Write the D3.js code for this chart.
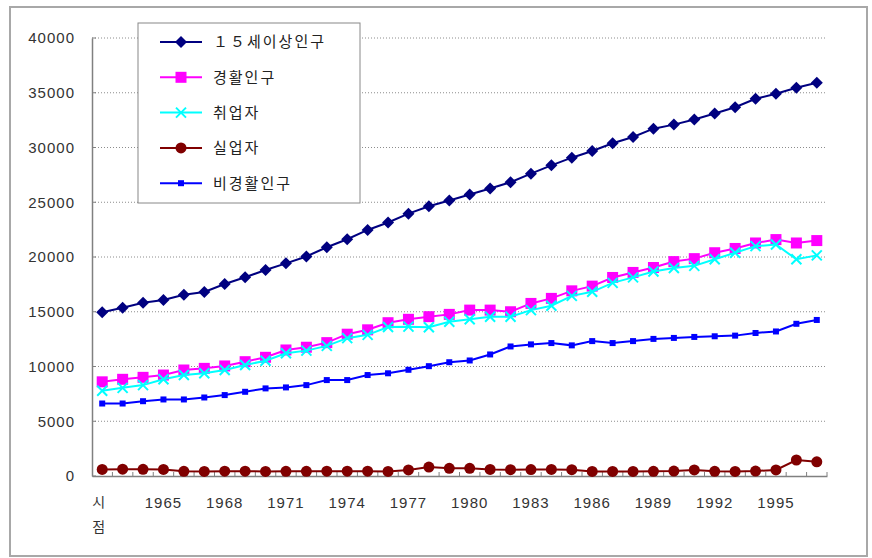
<!DOCTYPE html>
<html><head><meta charset="utf-8">
<script src="https://cdn.jsdelivr.net/npm/d3@7"></script>
<style>body{margin:0;background:#fff}</style>
</head><body>
<svg id="c" width="872" height="558"></svg>
<script>
const categories = ["시점","1963","1964","1965","1966","1967","1968","1969","1970","1971","1972","1973","1974","1975","1976","1977","1978","1979","1980","1981","1982","1983","1984","1985","1986","1987","1988","1989","1990","1991","1992","1993","1994","1995","1996","1997"];
const tickLabels = ["시점","1965","1968","1971","1974","1977","1980","1983","1986","1989","1992","1995"];
const yTicks = [0,5000,10000,15000,20000,25000,30000,35000,40000];
const seriesNames = ["１５세이상인구","경활인구","취업자","실업자","비경활인구"];
const pop15 = [14950,15370,15830,16070,16560,16800,17530,18150,18810,19420,20050,20890,21620,22470,23150,23960,24630,25160,25710,26260,26830,27610,28370,29070,29680,30390,30960,31720,32090,32550,33100,33680,34450,34910,35460,35920];
const active = [8600,8830,9010,9220,9680,9830,10050,10440,10840,11510,11760,12180,12950,13350,14000,14310,14550,14760,15150,15150,15000,15760,16220,16910,17340,18130,18590,19040,19580,19850,20390,20780,21280,21590,21280,21500];
const employed = [7780,8050,8300,8830,9220,9380,9680,10140,10530,11210,11450,11880,12590,12890,13600,13640,13580,14090,14310,14550,14550,15150,15550,16450,16820,17640,18140,18680,18990,19190,19790,20390,20990,21140,19790,20150];
const unemployed = [600,620,610,600,430,420,440,440,420,430,430,440,440,440,420,550,820,700,700,600,580,590,600,580,420,420,420,430,450,550,430,420,450,550,1460,1300];
const inactive = [6620,6620,6830,6990,6990,7170,7390,7690,8000,8090,8300,8760,8760,9220,9380,9700,10030,10390,10550,11100,11830,12020,12140,11930,12320,12140,12320,12520,12610,12700,12760,12820,13060,13200,13900,14250];
const seriesColors = ["#000080","#ff00ff","#00ffff","#800000","#0000ff"];
const seriesMarkers = ["diamond","square","cross","circle","smallsquare"];

const svg = d3.select("#c");
// outer frame
svg.append("rect").attr("x",10).attr("y",7).attr("width",857).attr("height",549)
  .attr("fill","#fff").attr("stroke","#a8a8a8").attr("stroke-width",2);

const x = d3.scaleBand().domain(categories).range([92,827]).padding(0);
const y = d3.scaleLinear().domain([0,40000]).range([476,38]);
const cx = c => x(c) + x.bandwidth()/2;

// grid
svg.append("g").selectAll("line").data(yTicks.filter(v=>v>0)).join("line")
  .attr("x1",92).attr("x2",827).attr("y1",d=>y(d)).attr("y2",d=>y(d))
  .attr("stroke","#8c8c8c").attr("stroke-width",1).attr("stroke-dasharray","1,2");

// y axis
const ya = svg.append("g").attr("transform","translate(92,0)")
  .call(d3.axisLeft(y).tickValues(yTicks).tickSize(0).tickPadding(17).tickFormat(d3.format("d")));
ya.select(".domain").attr("stroke","#808080").attr("stroke-width",1.5);
ya.selectAll("text").attr("font-family","Liberation Sans, Arial, sans-serif").attr("font-size",15)
  .attr("letter-spacing",1).attr("fill","#333");
// small inner ticks on y axis
svg.append("g").selectAll("line").data(yTicks).join("line")
  .attr("x1",92).attr("x2",96).attr("y1",d=>y(d)).attr("y2",d=>y(d)).attr("stroke","#808080");

// x axis
const xa = svg.append("g").attr("transform","translate(0,476)")
  .call(d3.axisBottom(x).tickValues(tickLabels).tickSize(0).tickPadding(21));
xa.select(".domain").attr("stroke","#808080").attr("stroke-width",1.5);
xa.selectAll("text").attr("font-family","Liberation Sans, Arial, sans-serif").attr("font-size",15)
  .attr("letter-spacing",1).attr("fill","#333");
xa.selectAll(".tick").filter(d=>d==="시점").select("text").each(function(d){
  const t = d3.select(this); t.text(null).attr("font-family","Noto Sans CJK KR, sans-serif").attr("font-size",14);
  t.append("tspan").attr("x",-3).attr("dy","0.71em").text(d.charAt(0));
  t.append("tspan").attr("x",-3).attr("dy",25).text(d.charAt(1));
});
// band-boundary ticks (inside)
svg.append("g").selectAll("line").data(categories.slice(1).concat(["end"])).join("line")
  .attr("x1",d=>d==="end"?827:x(d)).attr("x2",d=>d==="end"?827:x(d))
  .attr("y1",472).attr("y2",476).attr("stroke","#808080");

function marker(g, type, color){
  if(type==="diamond") g.append("path").attr("d","M0,-6L6,0L0,6L-6,0Z").attr("fill",color);
  else if(type==="square") g.append("rect").attr("x",-5.5).attr("y",-5.5).attr("width",11).attr("height",11).attr("fill",color);
  else if(type==="cross") g.append("path").attr("d","M-5,-5L5,5M-5,5L5,-5").attr("stroke",color).attr("stroke-width",2).attr("fill","none");
  else if(type==="circle") g.append("circle").attr("r",5.5).attr("fill",color);
  else g.append("rect").attr("x",-3).attr("y",-3).attr("width",6).attr("height",6).attr("fill",color);
}

const seriesData = [pop15, active, employed, unemployed, inactive];
const line = d3.line().x((d,i)=>cx(categories[i])).y(d=>y(d));
seriesData.forEach((vals,k)=>{
  const g = svg.append("g");
  g.append("path").attr("d",line(vals)).attr("fill","none").attr("stroke",seriesColors[k]).attr("stroke-width",2);
  vals.forEach((v,i)=>{
    const mg = g.append("g").attr("transform",`translate(${cx(categories[i])},${y(v)})`);
    marker(mg, seriesMarkers[k], seriesColors[k]);
  });
});

// legend
const lg = svg.append("g");
lg.append("rect").attr("x",138).attr("y",23).attr("width",222).attr("height",180)
  .attr("fill","#fff").attr("stroke","#888").attr("stroke-width",1);
seriesNames.forEach((n,k)=>{
  const ly = 42 + k*35.3;
  lg.append("line").attr("x1",160).attr("x2",202).attr("y1",ly).attr("y2",ly)
    .attr("stroke",seriesColors[k]).attr("stroke-width",2);
  const mg = lg.append("g").attr("transform",`translate(181,${ly})`);
  marker(mg, seriesMarkers[k], seriesColors[k]);
  lg.append("text").attr("x",213).attr("y",ly).attr("dy","0.36em")
    .attr("font-family","Noto Sans CJK KR, sans-serif").attr("font-size",15).attr("letter-spacing",2)
    .attr("fill","#222").text(n);
});
</script>
</body></html>
